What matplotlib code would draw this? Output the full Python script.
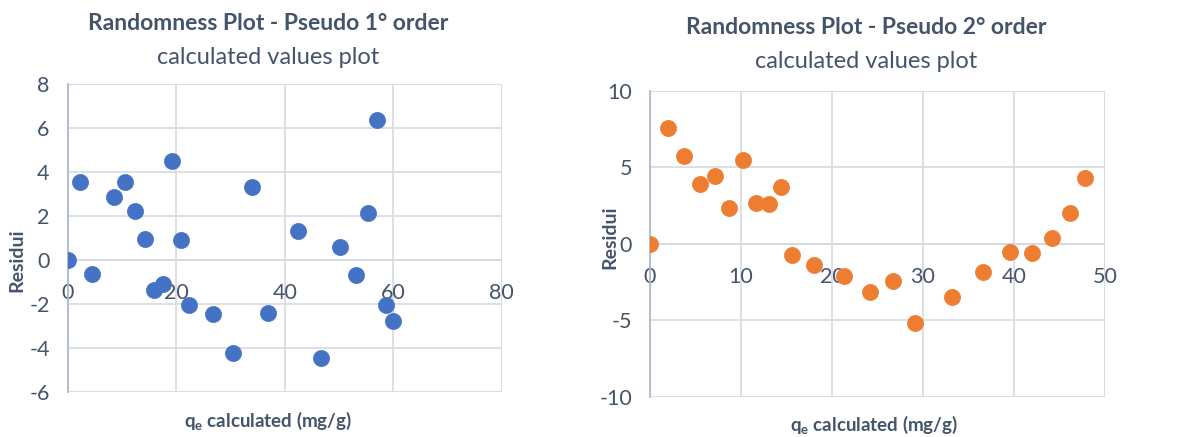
import numpy as np
import matplotlib
matplotlib.use('Agg')
import matplotlib.pyplot as plt

plt.rcParams['font.family'] = ['Lato', 'DejaVu Sans']
plt.rcParams['axes.unicode_minus'] = False

# ---- data ----
qe_1 = [0, 2.3, 4.4, 8.5, 10.5, 12.4, 14.2, 15.9, 17.6, 19.3, 20.9, 22.4,
        26.7, 30.5, 34.0, 37.0, 42.4, 46.6, 50.2, 53.1, 55.4, 57.1, 58.6, 60.0]
res_1 = [0, 3.52, -0.65, 2.84, 3.52, 2.23, 0.96, -1.38, -1.11, 4.50, 0.91, -2.06,
         -2.47, -4.22, 3.32, -2.43, 1.32, -4.47, 0.59, -0.68, 2.12, 6.38, -2.05, -2.78]

qe_2 = [0, 1.94, 3.77, 5.49, 7.14, 8.72, 10.26, 11.65, 13.08, 14.36, 15.64, 18.02,
        21.36, 24.18, 26.74, 29.12, 33.22, 36.63, 39.56, 42.01, 44.21, 46.15, 47.84]
res_2 = [0, 7.58, 5.75, 3.92, 4.40, 2.35, 5.45, 2.68, 2.59, 3.68, -0.72, -1.42,
         -2.14, -3.14, -2.44, -5.16, -3.46, -1.87, -0.57, -0.63, 0.39, 2.03, 4.31]

xticks_1 = [0, 20, 40, 60, 80]
yticks_1 = [-6, -4, -2, 0, 2, 4, 6, 8]
xticks_2 = [0, 10, 20, 30, 40, 50]
yticks_2 = [-10, -5, 0, 5, 10]

TXT = '#44546A'
GRID = '#D9DDE3'
AXIS = '#ADB9CA'

W, H = 1203, 437
fig = plt.figure(figsize=(W / 100, H / 100), dpi=100)


def px_axes(x0, y0, x1, y1):
    return fig.add_axes([x0 / W, 1 - y1 / H, (x1 - x0) / W, (y1 - y0) / H])


def style(ax, x, y, color, xt, yt):
    ax.set_xlim(xt[0], xt[-1])
    ax.set_ylim(yt[0], yt[-1])
    ax.set_xticks(xt)
    ax.set_yticks(yt)
    ax.grid(True, color=GRID, linewidth=1.3, zorder=0)
    for s in ['top', 'right', 'bottom']:
        ax.spines[s].set_visible(False)
    ax.spines['left'].set_color(AXIS)
    ax.spines['left'].set_linewidth(1.3)
    ax.axhline(0, color=AXIS, linewidth=1.3, zorder=1)
    ax.axhline(yt[0], color=GRID, linewidth=1.3, zorder=1)
    ax.axvline(xt[-1], color=GRID, linewidth=1.3, zorder=1)
    ax.axhline(yt[-1], color=GRID, linewidth=1.3, zorder=1)
    ax.tick_params(length=0, labelsize=15.5, labelcolor=TXT)
    ax.tick_params(axis='y', pad=13)
    # x labels sit just under the zero line, as in Excel
    ax.set_xticklabels([])
    for v in xt:
        ax.annotate(str(v), xy=(v, 0), xytext=(0, -17), textcoords='offset points',
                    ha='center', va='top', fontsize=15.5, color=TXT, zorder=2)
    ax.scatter(x, y, s=135, color=color, edgecolors=color, linewidths=0.5, zorder=3)


ax1 = px_axes(67.7, 84, 501.7, 391.7)
style(ax1, qe_1, res_1, '#4472C4', xticks_1, yticks_1)
ax2 = px_axes(650, 90.7, 1105, 396.7)
style(ax2, qe_2, res_2, '#ED7D31', xticks_2, yticks_2)

# titles
fig.text(268 / W, 1 - 23 / H, 'Randomness Plot - Pseudo 1° order', ha='center', va='center',
         fontsize=16.5, fontweight='bold', color=TXT)
fig.text(268 / W, 1 - 58 / H, 'calculated values plot', ha='center', va='center',
         fontsize=17, color=TXT)
fig.text(866 / W, 1 - 27 / H, 'Randomness Plot - Pseudo 2° order', ha='center', va='center',
         fontsize=16.5, fontweight='bold', color=TXT)
fig.text(866 / W, 1 - 62 / H, 'calculated values plot', ha='center', va='center',
         fontsize=17, color=TXT)

# axis labels
for cx, cy in [(268, 421), (874, 425)]:
    fig.text(cx / W, 1 - cy / H, r'q$_\mathregular{e}$ calculated (mg/g)', ha='center', va='center',
             fontsize=13.5, fontweight='bold', color=TXT)
fig.text(17 / W, 1 - 260 / H, 'Residui', rotation=90, ha='center', va='center',
         fontsize=14, fontweight='bold', color=TXT)
fig.text(610 / W, 1 - 237 / H, 'Residui', rotation=90, ha='center', va='center',
         fontsize=14, fontweight='bold', color=TXT)

fig.savefig('out.png', dpi=100)
